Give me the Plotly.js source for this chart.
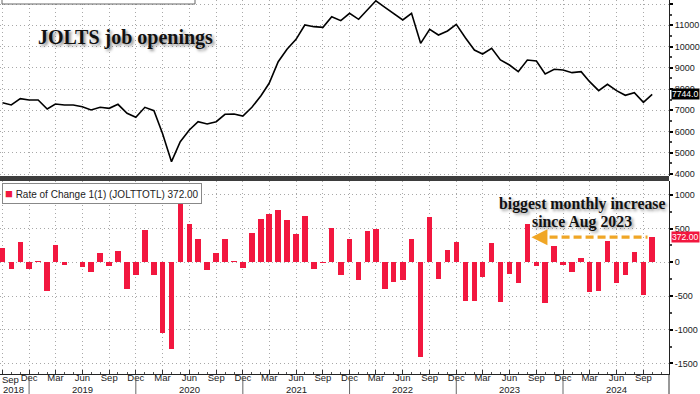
<!DOCTYPE html>
<html>
<head>
<meta charset="utf-8">
<script src="https://cdn.plot.ly/plotly-3.0.1.min.js"></script>
<style>html,body{margin:0;padding:0;background:#fff;}#chart{width:700px;height:394px;}</style>
</head>
<body>
<div id="chart"></div>
<script>
// ---- data (monthly, Sep 2018 .. Oct 2024) ----
const startYear = 2018, startMonth = 9, nMonths = 74;
const months = [];
for (let i = 0; i < nMonths; i++) {
  const mi = startMonth - 1 + i;
  const y = startYear + Math.floor(mi / 12);
  const m = (mi % 12) + 1;
  months.push(y + '-' + String(m).padStart(2, '0') + '-01');
}
// JOLTS job openings (thousands)
const openings = [
  7355, 7247, 7544, 7482, 7482, 7059, 7294, 7247, 7247, 7169, 7012, 7138,
  7090, 7279, 6856, 6667, 7138, 6980, 5915, 4580, 5520, 6071, 6462, 6353,
  6462, 6809, 6824, 6729, 7138, 7686, 8268, 9286, 9867, 10337, 11012, 10933,
  10902, 11404, 11216, 11561, 11279, 11718, 12150, 11845, 11561, 11247, 11561, 10150,
  10809, 10541, 10730, 11045, 10414, 9835, 9647, 9914, 9365, 9129, 8814, 9365,
  9318, 8706, 8926, 8894, 8769, 8814, 8344, 7921, 8219, 7921, 7703, 7826,
  7372, 7744
];
// Rate of change 1(1)
const change = [
  208, -104, 297, -104, 20, -425, 252, -40, 5, -74, -148, 143,
  -49, 168, -396, -188, 480, -193, -1045, -1287, 960, 569, 341, -119,
  143, 341, 20, -89, 430, 638, 712, 777, 628, 415, 688, -104,
  -5, 504, -188, 346, -267, 465, 495, -401, -297, -267, 346, -1400,
  673, -247, 178, 307, -574, -569, -218, 287, -589, -178, -312, 564,
  -49, -608, 247, -40, -138, 69, -445, -430, 317, -312, -188, 148,
  -485, 372
];
const tickDates = [
  '2018-09-01','2018-12-01','2019-03-01','2019-06-01','2019-09-01','2019-12-01',
  '2020-03-01','2020-06-01','2020-09-01','2020-12-01','2021-03-01','2021-06-01',
  '2021-09-01','2021-12-01','2022-03-01','2022-06-01','2022-09-01','2022-12-01',
  '2023-03-01','2023-06-01','2023-09-01','2023-12-01','2024-03-01','2024-06-01','2024-09-01'
];
const tickLabels = [
  '','Dec','Mar','Jun','Sep','Dec','Mar','Jun','Sep','Dec','Mar','Jun',
  'Sep','Dec','Mar','Jun','Sep','Dec','Mar','Jun','Sep','Dec','Mar','Jun','Sep'
];
const topTicks = [4000, 5000, 6000, 7000, 8000, 9000, 10000, 11000, 12000];
const topTickText = ['4000','5000','6000','7000','8000','9000','10000','11000','12000'];
const botTicks = [-1500, -1000, -500, 0, 500, 1000];
const botTickText = ['-1500','-1000','-500','0','500','1000'];
const years = ['2018','2019','2020','2021','2022','2023','2024'];
const yearCenters = ['2018-10-08','2019-06-01','2020-06-01','2021-06-01','2022-06-01','2023-06-01','2024-06-01'];
const yearBreaks = ['2018-12-01','2019-12-01','2020-12-01','2021-12-01','2022-12-01','2023-12-01'];
const lastOpenings = '7744.0';
const lastChange = '372.00';
const seriesName = 'Rate of Change 1(1) (JOLTTOTL) ' + lastChange;

// ---- styling ----
const RED = '#f2173f';
const GOLD = '#f0a626';
const gridStyle = {showgrid: true, gridcolor: '#a8a8a8', gridwidth: 1, griddash: '1px,3px'};
const tickFont = {family: 'Liberation Sans, Arial, sans-serif', size: 9.5, color: '#222'};
const yTickFont = {family: 'Liberation Sans, Arial, sans-serif', size: 9, color: '#222'};

const traces = [
  {
    type: 'scatter', mode: 'lines', x: months, y: openings,
    xaxis: 'x', yaxis: 'y', showlegend: false,
    line: {color: '#000', width: 1.6}
  },
  {
    type: 'bar', x: months, y: change, xaxis: 'x', yaxis: 'y2',
    name: seriesName, marker: {color: RED, line: {width: 0}},
    width: 18.8 * 86400000, showlegend: false
  }
];

const topDom = [(374 - 176) / 374, 1];
const botDom = [0, (374 - 181) / 374];
const serif = 'Liberation Serif, Times New Roman, serif';

const annotations = [
  {xref: 'paper', yref: 'paper', x: 125 / 669, y: 1 - 38 / 374, xanchor: 'center', yanchor: 'middle',
   text: 'JOLTS job openings', showarrow: false,
   font: {family: serif, size: 20, color: '#111', weight: 'bold',
          shadow: '2px 2px 3px rgba(0,0,0,0.45)'}},
  {xref: 'paper', yref: 'y2', x: 582 / 669, y: 865, xanchor: 'center', yanchor: 'middle',
   text: 'biggest monthly increase', showarrow: false,
   font: {family: serif, size: 15.8, color: '#111', weight: 'bold',
          shadow: '2px 2px 3px rgba(0,0,0,0.4)'}},
  {xref: 'paper', yref: 'y2', x: 582 / 669, y: 598, xanchor: 'center', yanchor: 'middle',
   text: 'since Aug 2023', showarrow: false,
   font: {family: serif, size: 15.8, color: '#111', weight: 'bold',
          shadow: '2px 2px 3px rgba(0,0,0,0.4)'}},
  // arrow head pointing at Aug 2023 bar
  {xref: 'x', yref: 'y2', axref: 'x', ayref: 'y2', x: '2023-08-15', y: change[nMonths - 1],
   ax: '2023-09-12', ay: change[nMonths - 1], text: '', showarrow: true,
   arrowhead: 2, arrowsize: 1, arrowwidth: 3.2, arrowcolor: GOLD},
  // last value labels
  {xref: 'paper', yref: 'y', x: 1, y: openings[nMonths - 1], xanchor: 'left', yanchor: 'middle', xshift: 2,
   text: lastOpenings, showarrow: false, bgcolor: '#000', borderpad: 0,
   font: {family: 'Liberation Sans, Arial, sans-serif', size: 8.6, color: '#fff'}},
  {xref: 'paper', yref: 'y2', x: 1, y: change[nMonths - 1], xanchor: 'left', yanchor: 'middle', xshift: 2,
   text: lastChange, showarrow: false, bgcolor: RED, borderpad: 0,
   font: {family: 'Liberation Sans, Arial, sans-serif', size: 8.6, color: '#fff'}},
  // legend box of the lower panel
  {xref: 'paper', yref: 'paper', x: 2 / 669, y: 1 - 183 / 374, xanchor: 'left', yanchor: 'top',
   text: '<span style="color:' + RED + ';font-size:13px">■</span> ' + seriesName, showarrow: false,
   bgcolor: '#fff', bordercolor: '#888', borderwidth: 1, borderpad: 2,
   font: {family: 'Liberation Sans, Arial, sans-serif', size: 10, color: '#222'}},
  // first (clipped) month label
  {xref: 'paper', yref: 'paper', x: 0, y: -(379.5 - 374) / 374, xanchor: 'left', yanchor: 'middle',
   text: 'Sep', showarrow: false, font: tickFont}
];
years.forEach((yr, k) => {
  annotations.push({xref: 'x', yref: 'paper', x: yearCenters[k], y: -(389 - 374) / 374,
    xanchor: 'center', yanchor: 'middle', text: yr, showarrow: false, font: tickFont});
});

const shapes = [
  // panel separator
  {type: 'rect', xref: 'paper', yref: 'paper', x0: -0.01, x1: 1, y0: botDom[1], y1: topDom[0],
   fillcolor: '#3d3d3d', line: {width: 0}},
  // clipped top legend box
  {type: 'rect', xref: 'paper', yref: 'paper', x0: 0.003, x1: 0.2915, y0: 1 - 4 / 374, y1: 1.05,
   fillcolor: '#fff', line: {color: '#666', width: 1}},
  // dashed arrow shaft
  {type: 'line', xref: 'x', yref: 'y2', x0: '2023-09-05', x1: '2024-09-15',
   y0: change[nMonths - 1], y1: change[nMonths - 1],
   line: {color: GOLD, width: 3.2, dash: '8px,4px'}},
  // right axis extension into label area
  {type: 'line', xref: 'paper', yref: 'paper', x0: 1, x1: 1, y0: 0, y1: -0.06,
   line: {color: '#333', width: 1}}
];
yearBreaks.forEach(d => {
  shapes.push({type: 'line', xref: 'x', yref: 'paper', x0: d, x1: d, y0: -0.005, y1: -0.06,
    line: {color: '#666', width: 1}});
});

const layout = {
  width: 700, height: 394,
  margin: {l: 0, r: 31, t: 0, b: 20, pad: 0},
  paper_bgcolor: '#fff', plot_bgcolor: '#fff',
  bargap: 0,
  showlegend: false,
  xaxis: Object.assign({
    type: 'date', anchor: 'y2', range: ['2018-08-23 12:00', '2024-11-27 12:00'],
    tickmode: 'array', tickvals: tickDates, ticktext: tickLabels,
    ticks: 'inside', ticklen: 4, tickcolor: '#333', tickwidth: 1,
    ticklabelstandoff: -5,
    minor: {dtick: 'M1', ticks: 'inside', ticklen: 2, tickcolor: '#555', showgrid: false},
    showline: true, linecolor: '#222', linewidth: 1,
    tickfont: tickFont, tickangle: 0, zeroline: false, automargin: false
  }, gridStyle),
  yaxis: Object.assign({
    domain: topDom, anchor: 'x', side: 'right', range: [3906, 12188],
    tickmode: 'array', tickvals: topTicks, ticktext: topTickText,
    ticks: 'outside', ticklen: 3, tickwidth: 2, tickcolor: '#000',
    minor: {dtick: 500, ticks: 'outside', ticklen: 2, tickcolor: '#444', showgrid: false},
    showline: true, linecolor: '#222', linewidth: 1,
    tickfont: yTickFont, zeroline: false, automargin: false
  }, gridStyle),
  yaxis2: Object.assign({
    domain: botDom, anchor: 'x', side: 'right', range: [-1657, 1206],
    tickmode: 'array', tickvals: botTicks, ticktext: botTickText,
    ticks: 'outside', ticklen: 3, tickwidth: 2, tickcolor: '#000',
    minor: {dtick: 250, ticks: 'outside', ticklen: 2, tickcolor: '#444', showgrid: false},
    showline: true, linecolor: '#222', linewidth: 1,
    tickfont: yTickFont, zeroline: false, automargin: false
  }, gridStyle),
  annotations: annotations,
  shapes: shapes
};

Plotly.newPlot('chart', traces, layout, {displayModeBar: false, staticPlot: true});
</script>
</body>
</html>
